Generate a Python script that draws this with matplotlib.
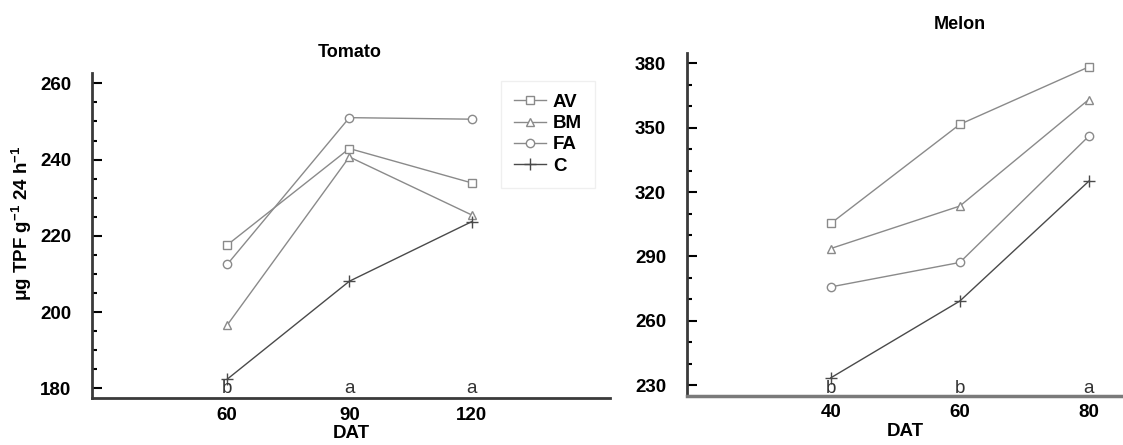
import matplotlib
matplotlib.use("Agg")
import matplotlib.pyplot as plt
from matplotlib.ticker import FixedLocator
import matplotlib.transforms as mtransforms
import numpy as np

plt.rcParams["font.family"] = ["Liberation Sans", "DejaVu Sans"]
plt.rcParams["mathtext.fontset"] = "custom"
plt.rcParams["mathtext.rm"] = "Liberation Sans:bold"
plt.rcParams["mathtext.bf"] = "Liberation Sans:bold"

# --- data ---
series = ["AV", "BM", "FA", "C"]

tomato_dat = [60, 90, 120]
tomato_av = [217.6, 242.9, 233.9]
tomato_bm = [196.6, 240.7, 225.5]
tomato_fa = [212.5, 251.0, 250.6]
tomato_c = [182.4, 208.1, 223.7]
tomato_letters = ["b", "a", "a"]
tomato_yticks = [180, 200, 220, 240, 260]

melon_dat = [40, 60, 80]
melon_av = [305.4, 351.6, 378.4]
melon_bm = [293.7, 313.5, 363.2]
melon_fa = [275.8, 287.2, 346.1]
melon_c = [233.4, 269.2, 325.1]
melon_letters = ["b", "b", "a"]
melon_yticks = [230, 260, 290, 320, 350, 380]

styles = {
    "AV": dict(marker="s", color="#8a8a8a"),
    "BM": dict(marker="^", color="#8a8a8a"),
    "FA": dict(marker="o", color="#8a8a8a"),
    "C":  dict(marker="+", color="#4a4a4a"),
}

FS = 13.5

fig = plt.figure(figsize=(11.23, 4.45), dpi=100)
ax1 = fig.add_axes([0.0819, 0.105, 0.4613, 0.730])
ax2 = fig.add_axes([0.6117, 0.110, 0.3883, 0.770])


def draw(ax, x, vals, letters, letter_y, yticks, minor_step):
    for name, y in zip(series, vals):
        st = styles[name]
        ax.plot(x, y, color=st["color"], lw=1.0, marker=st["marker"],
                ms=6 if st["marker"] != "+" else 8,
                mfc="white", mec=st["color"], mew=1.0, label=name)
    for xi, lt in zip(x, letters):
        ax.text(xi, letter_y, lt, ha="center", va="center", fontsize=FS,
                color="#333333")
    for side in ("top", "right"):
        ax.spines[side].set_visible(False)
    ax.set_xticks(x)
    ax.yaxis.set_major_locator(FixedLocator(yticks))
    ax.yaxis.set_minor_locator(
        FixedLocator(np.arange(yticks[0], yticks[-1] + minor_step, minor_step)))
    ax.tick_params(axis="x", length=0, pad=6, labelsize=FS)
    ax.tick_params(axis="y", which="major", direction="in", length=7,
                   width=1.5, labelsize=FS, pad=15)
    ax.tick_params(axis="y", which="minor", direction="in", length=3.5,
                   width=1.5)
    for lab in ax.get_xticklabels() + ax.get_yticklabels():
        lab.set_fontweight("bold")
    ax.set_xlabel("DAT", fontsize=FS, fontweight="bold", labelpad=1)


draw(ax1, tomato_dat, [tomato_av, tomato_bm, tomato_fa, tomato_c],
     tomato_letters, 180, tomato_yticks, 5)
ax1.set_xlim(26.8, 154)
ax1.set_ylim(177.4, 262.6)
for s in ("left", "bottom"):
    ax1.spines[s].set_linewidth(2.0)
    ax1.spines[s].set_color("#3a3a3a")
ax1.set_ylabel(r"μg TPF g$^{-1}$ 24 h$^{-1}$", fontsize=FS,
               fontweight="bold")
ax1.yaxis.set_label_coords(-0.112, 0.54)
trans1 = mtransforms.blended_transform_factory(ax1.transData, ax1.transAxes)
ax1.text(90, 1.065, "Tomato", transform=trans1, ha="center", va="center",
         fontsize=13, fontweight="bold")
leg = ax1.legend(loc="upper left", bbox_to_anchor=(0.79, 0.978),
                 frameon=True, fancybox=False, fontsize=FS,
                 handlelength=1.7, handletextpad=0.35, labelspacing=0.22,
                 borderpad=0.7, borderaxespad=0.0)
leg.get_frame().set_edgecolor("#ececec")
leg.get_frame().set_linewidth(1.0)
for t in leg.get_texts():
    t.set_fontweight("bold")

draw(ax2, melon_dat, [melon_av, melon_bm, melon_fa, melon_c],
     melon_letters, 228.6, melon_yticks, 10)
ax2.set_xlim(17.7, 85.3)
ax2.set_ylim(224.9, 384.7)
ax2.spines["left"].set_linewidth(2.0)
ax2.spines["left"].set_color("#3a3a3a")
ax2.spines["bottom"].set_linewidth(2.5)
ax2.spines["bottom"].set_color("#7a7a7a")
trans2 = mtransforms.blended_transform_factory(ax2.transData, ax2.transAxes)
ax2.text(60, 1.085, "Melon", transform=trans2, ha="center", va="center",
         fontsize=13, fontweight="bold")

fig.savefig("out.png", dpi=100)
